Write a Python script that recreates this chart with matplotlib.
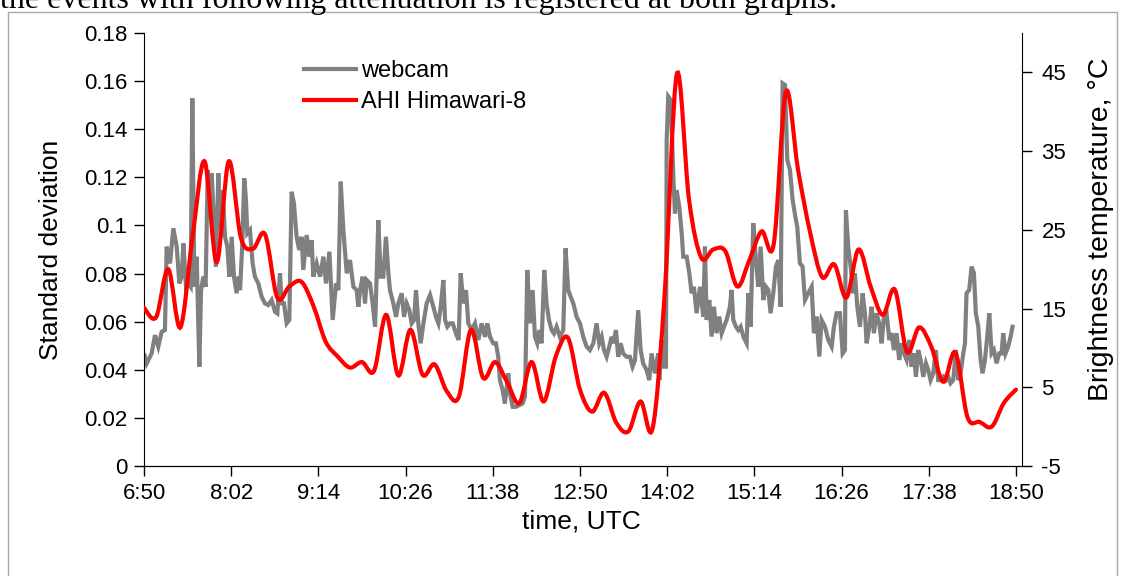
import matplotlib
matplotlib.use('Agg')
import matplotlib.pyplot as plt
from matplotlib.path import Path
from matplotlib.patches import PathPatch, Rectangle
from matplotlib.lines import Line2D

plt.rcParams['font.family'] = ['Liberation Sans', 'DejaVu Sans']
plt.rcParams['axes.unicode_minus'] = False

# x axis: minutes after 6:50 UTC
tick_minutes = [0, 72, 144, 216, 288, 360, 432, 504, 576, 648, 720]
tick_labels = ['6:50', '8:02', '9:14', '10:26', '11:38', '12:50',
               '14:02', '15:14', '16:26', '17:38', '18:50']

# webcam standard deviation (left axis)
webcam_t = [0.5, 2.2, 6.3, 9.1, 11.8, 14.6, 17.3, 18.7, 21.5, 24.2, 27.0,
            29.2, 31.1, 32.5, 34.7, 36.6, 38.5, 39.9, 41.6, 43.5, 45.7,
            47.1, 49.0, 50.9, 52.6, 54.5, 55.9, 57.8, 59.4, 61.4, 62.7,
            64.9, 66.9, 68.8, 70.5, 72.4, 74.3, 76.5, 77.9, 79.3, 81.2,
            82.8, 84.2, 85.3, 87.5, 89.7, 91.6, 94.4, 97.1, 99.9, 102.6,
            105.4, 108.2, 110.1, 112.3, 113.7, 115.6, 117.8, 120.0, 121.9, 123.8,
            126.0, 128.2, 130.2, 131.5, 134.3, 136.5, 138.4, 139.8, 142.6,
            145.4, 148.1, 150.3, 153.1, 155.8, 158.6, 160.5, 162.4, 164.6, 167.4,
            170.1, 172.9, 175.6, 177.0, 178.4, 180.6, 182.5, 183.9, 186.6, 188.8,
            190.8, 193.5, 195.4, 197.6, 199.8, 201.8, 203.1, 205.9, 208.1, 210.0,
            212.8, 214.7, 216.9, 219.1, 221.0, 223.0, 224.6, 226.5, 228.5, 230.7,
            233.4, 236.2, 238.9, 241.1, 243.1, 245.0, 247.2, 248.6, 250.5, 252.7,
            254.9, 257.6, 259.8, 261.5, 263.7, 265.9, 267.8, 270.6, 273.3, 276.1,
            278.8, 281.6,
            283.5, 285.7, 288.4, 290.6, 292.5, 293.9, 296.1, 298.0, 300.8, 302.2,
            304.4, 307.1, 309.9, 312.6, 314.6, 316.5, 318.7, 320.9, 322.8, 324.7,
            326.4, 328.3, 330.5, 332.4, 334.4, 336.6, 338.5, 340.7, 343.4, 346.2,
            348.1, 350.3, 352.3, 354.5, 357.2, 360.0, 362.7, 365.5, 368.2, 371.0,
            373.7, 375.9, 377.9, 379.8, 382.0, 384.2, 386.1, 387.5, 389.7, 391.6,
            393.5, 395.7, 398.5, 401.2, 403.4, 405.4, 408.1, 410.1, 412.2, 415.0,
            417.2, 419.1, 421.9, 424.6,
            425.5, 427.4, 429.4, 431.0, 431.6, 432.9, 434.9, 437.1, 438.4, 439.8,
            442.0, 444.0, 445.3, 448.1, 450.3, 452.2, 454.1, 456.3, 459.1, 461.8,
            463.2, 464.6, 466.8, 468.7, 470.6, 472.8, 475.0, 477.0, 478.9, 481.1,
            483.8, 485.2, 486.6, 488.8, 490.7, 492.7, 494.9, 497.6, 499.0, 500.9,
            503.1, 505.3, 507.2, 509.2, 511.4, 513.6, 515.5, 517.4, 519.6, 521.8,
            523.8, 525.7, 527.3, 529.3, 531.2, 533.4, 535.6, 537.8, 539.4, 541.6,
            543.8, 545.8, 548.5, 551.3, 553.2, 555.4, 557.6, 559.5, 562.3, 565.0,
            567.8, 569.7, 571.9, 574.7,
            575.2, 576.9, 578.8, 579.6, 581.5, 583.5, 585.7, 587.0, 589.0, 591.2,
            593.4, 595.3, 596.7, 598.9, 600.8, 602.7, 604.9, 607.1, 609.1, 611.0,
            613.2, 615.4, 617.3, 619.2, 621.4, 623.6, 625.6, 627.5, 629.7, 631.9,
            633.8, 635.8, 637.4, 639.3, 641.3, 643.5, 645.7, 647.6, 649.5, 651.7,
            653.9, 655.8, 657.8, 660.0, 662.2, 664.1, 666.0, 668.2, 670.4, 672.4,
            674.3, 676.5, 677.9, 679.2, 681.4, 683.4, 685.3, 686.9, 688.9, 690.8,
            692.4, 694.4, 696.3, 698.0, 699.9, 701.8, 704.0, 706.2, 708.1, 709.5,
            711.4, 713.6, 715.6, 717.2]
webcam_std = [0.0460, 0.0426, 0.0468, 0.0544, 0.0496, 0.0558, 0.0565, 0.0912, 0.0842, 0.0988, 0.0912,
              0.0759, 0.0787, 0.0925, 0.0745, 0.0759, 0.0745, 0.1528, 0.0745, 0.0870, 0.0413,
              0.0731, 0.0787, 0.0745, 0.1230, 0.1147, 0.1217, 0.1009, 0.0828, 0.1217, 0.0981,
              0.1147, 0.0953, 0.0912, 0.0787, 0.0953, 0.0787, 0.0718, 0.0787, 0.0731, 0.0925,
              0.1196, 0.1106, 0.0967, 0.0981, 0.0842, 0.0787, 0.0759, 0.0704, 0.0676, 0.0669,
              0.0690, 0.0641, 0.0634, 0.0801, 0.0676, 0.0676, 0.0593, 0.0607, 0.1140, 0.1092,
              0.0953, 0.0898, 0.0953, 0.0815, 0.0960, 0.0870, 0.0939, 0.0787, 0.0842,
              0.0787, 0.0870, 0.0759, 0.0891, 0.0607, 0.0759, 0.0731, 0.1182, 0.0981, 0.0801,
              0.0856, 0.0745, 0.0731, 0.0662, 0.0731, 0.0787, 0.0676, 0.0773, 0.0759, 0.0676,
              0.0579, 0.1022, 0.0787, 0.0787, 0.0953, 0.0801, 0.0731, 0.0676, 0.0620, 0.0676,
              0.0718, 0.0620, 0.0676, 0.0648, 0.0593, 0.0607, 0.0731, 0.0593, 0.0510, 0.0593,
              0.0676, 0.0711, 0.0662, 0.0620, 0.0593, 0.0662, 0.0773, 0.0607, 0.0579, 0.0593,
              0.0593, 0.0551, 0.0524, 0.0801, 0.0676, 0.0731, 0.0593, 0.0565, 0.0593, 0.0524,
              0.0593, 0.0537,
              0.0593, 0.0537, 0.0510, 0.0510, 0.0454, 0.0357, 0.0316, 0.0260, 0.0385, 0.0302,
              0.0246, 0.0246, 0.0253, 0.0260, 0.0288, 0.0815, 0.0593, 0.0731, 0.0537, 0.0510,
              0.0565, 0.0510, 0.0815, 0.0676, 0.0607, 0.0565, 0.0551, 0.0579, 0.0537, 0.0565,
              0.0905, 0.0731, 0.0704, 0.0676, 0.0620, 0.0593, 0.0537, 0.0496, 0.0482, 0.0510,
              0.0593, 0.0510, 0.0537, 0.0482, 0.0454, 0.0496, 0.0537, 0.0510, 0.0565, 0.0454,
              0.0510, 0.0468, 0.0454, 0.0454, 0.0413, 0.0440, 0.0648, 0.0482, 0.0426, 0.0399,
              0.0357, 0.0468, 0.0385, 0.0468,
              0.0357, 0.0524, 0.0413, 0.0413, 0.1355, 0.1536, 0.1522, 0.1203, 0.1050, 0.1147,
              0.1078, 0.0967, 0.0870, 0.0870, 0.0801, 0.0718, 0.0745, 0.0635, 0.0745, 0.0621,
              0.0912, 0.0607, 0.0690, 0.0538, 0.0662, 0.0552, 0.0621, 0.0552, 0.0579, 0.0607,
              0.0662, 0.0732, 0.0607, 0.0579, 0.0565, 0.0579, 0.0538, 0.0510, 0.0718, 0.0579,
              0.1009, 0.0856, 0.0745, 0.0912, 0.0690, 0.0745, 0.0732, 0.0635, 0.0718, 0.0829,
              0.0856, 0.0662, 0.1591, 0.1584, 0.1272, 0.1231, 0.1106, 0.1037, 0.0995, 0.0843,
              0.0829, 0.0690, 0.0718, 0.0745, 0.0552, 0.0621, 0.0455, 0.0607, 0.0579, 0.0524,
              0.0496, 0.0579, 0.0635, 0.0635,
              0.0593, 0.0468, 0.0482, 0.1064, 0.0912, 0.0829, 0.0718, 0.0801, 0.0662, 0.0579,
              0.0718, 0.0635, 0.0510, 0.0579, 0.0662, 0.0552, 0.0635, 0.0593, 0.0510, 0.0621,
              0.0635, 0.0524, 0.0552, 0.0482, 0.0552, 0.0441, 0.0510, 0.0468, 0.0441, 0.0524,
              0.0413, 0.0468, 0.0371, 0.0482, 0.0441, 0.0371, 0.0427, 0.0399, 0.0357, 0.0385,
              0.0482, 0.0357, 0.0357, 0.0371, 0.0357, 0.0371, 0.0344, 0.0357, 0.0482, 0.0357,
              0.0385, 0.0468, 0.0510, 0.0718, 0.0732, 0.0829, 0.0801, 0.0635, 0.0579, 0.0441,
              0.0385, 0.0441, 0.0538, 0.0635, 0.0468, 0.0482, 0.0427, 0.0468, 0.0468, 0.0552,
              0.0468, 0.0496, 0.0538, 0.0579]

# AHI Himawari-8 brightness temperature (right axis), every 10 min
ahi_t = list(range(0, 721, 10))
ahi_temp = [15.1, 13.9, 20.0, 12.6, 24.0, 33.7, 20.9, 33.7, 24.0, 22.6,
            24.4, 16.4, 17.8, 18.4, 15.3, 10.8, 8.9, 7.5, 8.2, 7.1,
            14.2, 6.5, 12.3, 6.6, 7.9, 4.5, 3.8, 12.3, 6.2, 8.2,
            5.6, 3.0, 8.2, 3.2, 8.9, 11.3, 4.7, 1.9, 4.3, 0.5,
            -0.6, 3.2, -0.2, 17.0, 44.8, 28.9, 21.5, 22.5, 22.3, 17.8,
            21.2, 24.8, 23.2, 42.5, 32.7, 24.7, 19.0, 20.6, 16.4, 22.5,
            17.8, 14.2, 17.4, 9.5, 12.6, 10.2, 5.7, 9.4, 1.2, 0.6,
            0.0, 3.0, 4.7]

GRAY = '#808080'
RED = '#ff0000'


def smooth_path(x, y):
    # smoothed line like excel: catmull-rom segments as cubic bezier
    verts = [(x[0], y[0])]
    codes = [Path.MOVETO]
    n = len(x)
    for i in range(n - 1):
        xp, yp = (x[i - 1], y[i - 1]) if i > 0 else (x[i], y[i])
        xn, yn = (x[i + 2], y[i + 2]) if i < n - 2 else (x[i + 1], y[i + 1])
        c1 = (x[i] + (x[i + 1] - xp) / 6, y[i] + (y[i + 1] - yp) / 6)
        c2 = (x[i + 1] - (xn - x[i]) / 6, y[i + 1] - (yn - y[i]) / 6)
        verts += [c1, c2, (x[i + 1], y[i + 1])]
        codes += [Path.CURVE4] * 3
    return Path(verts, codes)


fig = plt.figure(figsize=(11.22, 5.76), dpi=100)

# outer frame and the caption line above it (cut by the top edge in the source)
fig.patches.append(Rectangle((8 / 1122, -0.05), 1109 / 1122, 1.05 - 12 / 576,
                             transform=fig.transFigure, fill=False,
                             edgecolor='#a6a6a6', lw=1.0))
fig.text(0.0, 1 - 8 / 576, 'the events with following attenuation is registered at both graphs.',
         family=['Liberation Serif', 'DejaVu Serif'], fontsize=23, va='baseline', ha='left')

ax = fig.add_axes([144 / 1122, 1 - 466 / 576, 878 / 1122, 433 / 576])
ax.patch.set_alpha(0)
web_line, = ax.plot(webcam_t, webcam_std, color=GRAY, lw=3.0, solid_joinstyle='miter')
ax.set_xlim(0, 725)
ax.set_ylim(0, 0.18)
ax.set_yticks([0, 0.02, 0.04, 0.06, 0.08, 0.1, 0.12, 0.14, 0.16, 0.18])
ax.set_yticklabels(['0', '0.02', '0.04', '0.06', '0.08', '0.1', '0.12', '0.14', '0.16', '0.18'])
ax.set_xticks(tick_minutes)
ax.set_xticklabels(tick_labels)
ax.tick_params(direction='out', length=7, width=1, labelsize=16, pad=5)
ax.spines['top'].set_visible(False)
ax.spines['right'].set_visible(False)
ax.set_ylabel('Standard deviation', fontsize=19)
ax.yaxis.set_label_coords(-0.092, 0.5)
ax.set_xlabel('time, UTC', fontsize=19)
ax.xaxis.set_label_coords(0.498, -0.10)

ax2 = ax.twinx()
ax2.set_ylim(-5, 50)
ax2.set_yticks([-5, 5, 15, 25, 35, 45])
ax2.tick_params(direction='out', length=7, width=1, labelsize=16, pad=7)
ax2.spines['top'].set_visible(False)
ax2.spines['left'].set_visible(False)
ax2.add_patch(PathPatch(smooth_path(ahi_t, ahi_temp), fill=False,
                        edgecolor=RED, lw=3.0, capstyle='round'))
ax2.set_ylabel('Brightness temperature, \u00b0C', fontsize=20.5)
ax2.yaxis.set_label_coords(1.075, 0.547)

red_handle = Line2D([], [], color=RED, lw=3.0)
ax2.legend([web_line, red_handle], ['webcam', 'AHI Himawari-8'], loc='upper left',
           bbox_to_anchor=(0.172, 0.96), frameon=False, fontsize=17,
           handlelength=2.2, handletextpad=0.2, labelspacing=0.4, borderaxespad=0)

fig.savefig('out.png', dpi=100)
